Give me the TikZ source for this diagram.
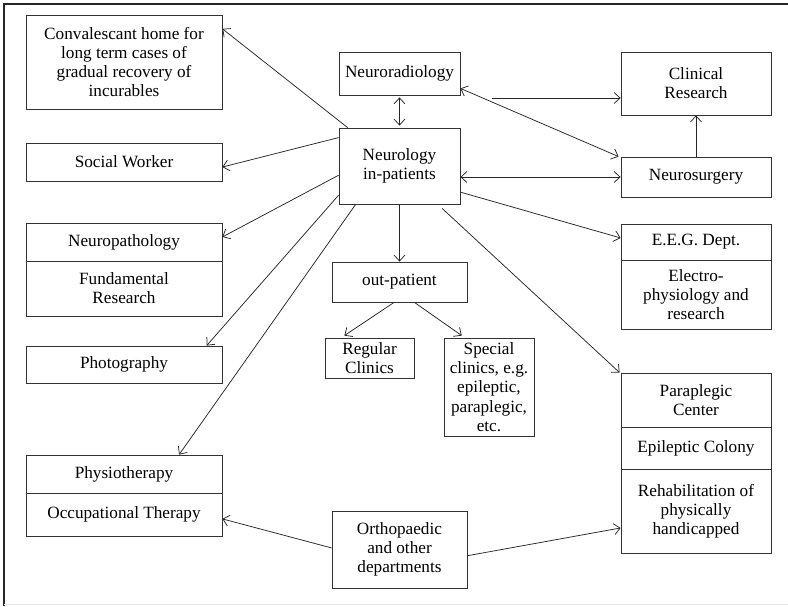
\documentclass[tikz,border=0pt]{standalone}
\usepackage{fontspec}
\setmainfont{Liberation Serif}
\usetikzlibrary{arrows.meta,calc}
\tikzset{
  box/.style={draw=black!80, line width=0.8pt, inner sep=0pt, align=center,
    font=\fontsize{17.2}{19.2}\selectfont},
  conn/.style={draw=black!85, line width=0.75pt, -{Straight Barb[length=6pt,width=11pt]}},
  dconn/.style={draw=black!85, line width=0.75pt, {Straight Barb[length=6pt,width=11pt]}-{Straight Barb[length=6pt,width=11pt]}},
}
\begin{document}
\begin{tikzpicture}[x=1pt,y=-1pt]
\useasboundingbox (0,0) rectangle (788,606);
\draw[black!85, line width=1.2pt] (4,606) -- (4,4) -- (788,4);
\draw[black!10, line width=0.8pt] (4,604.5) -- (788,604.5);
% left column
\node[box, minimum width=196pt, minimum height=94pt] (conv) at (124,62) {Convalescant home for\\long term cases of\\gradual recovery of\\incurables};
\node[box, minimum width=196pt, minimum height=38pt] (social) at (124,162) {Social Worker};
\node[box, minimum width=196pt, minimum height=38pt] (npath) at (124,242) {Neuropathology};
\node[box, minimum width=196pt, minimum height=55pt] (fund) at (124,288.5) {Fundamental\\Research};
\node[box, minimum width=196pt, minimum height=37pt] (photo) at (124,364.5) {Photography};
\node[box, minimum width=196pt, minimum height=38pt] (physio) at (124,474) {Physiotherapy};
\node[box, minimum width=196pt, minimum height=43pt] (occ) at (124,514.5) {Occupational Therapy};
% middle column
\node[box, minimum width=121pt, minimum height=43pt] (nrad) at (399.5,73.5) {Neuroradiology};
\node[box, minimum width=121pt, minimum height=76pt] (neuro) at (399.5,166) {Neurology\\in-patients};
\node[box, minimum width=135pt, minimum height=40pt] (outp) at (399.5,282) {out-patient};
\node[box, minimum width=89pt, minimum height=40pt] (reg) at (369.5,358) {Regular\\Clinics};
\node[box, minimum width=90pt, minimum height=98pt] (spec) at (489,387) {Special\\clinics, e.g.\\epileptic,\\paraplegic,\\etc.};
\node[box, minimum width=135pt, minimum height=77pt] (ortho) at (399.5,549.5) {Orthopaedic\\and other\\departments};
% right column
\node[box, minimum width=150pt, minimum height=63pt] (clin) at (696,83.5) {Clinical\\Research};
\node[box, minimum width=150pt, minimum height=40pt] (nsurg) at (696,177) {Neurosurgery};
\node[box, minimum width=150pt, minimum height=36pt] (eeg) at (696,242) {E.E.G. Dept.};
\node[box, minimum width=150pt, minimum height=69pt] (ephys) at (696,294.5) {Electro-\\physiology and\\research};
\node[box, minimum width=150pt, minimum height=54pt] (para) at (696,400) {Paraplegic\\Center};
\node[box, minimum width=150pt, minimum height=42pt] (epil) at (696,448) {Epileptic Colony};
\node[box, minimum width=150pt, minimum height=84pt] (rehab) at (696,511) {Rehabilitation of\\physically\\handicapped};
\coordinate (free) at (492,98);
% connectors
\draw[conn] ($(neuro.north west)!0.074!(neuro.north east)$) -- ($(conv.north east)!0.15!(conv.south east)$);
\draw[conn] ($(neuro.north west)!0.13!(neuro.south west)$) -- ($(social.north east)!0.63!(social.south east)$);
\draw[conn] ($(neuro.north west)!0.62!(neuro.south west)$) -- ($(npath.north east)!0.37!(npath.south east)$);
\draw[conn] ($(neuro.north west)!0.88!(neuro.south west)$) -- ($(photo.north west)!0.92!(photo.north east)$);
\draw[conn] ($(neuro.south west)!0.14!(neuro.south east)$) -- ($(physio.north west)!0.78!(physio.north east)$);
\draw[dconn, shorten <=2pt, shorten >=2pt] (nrad.south) -- (neuro.north);
\draw[conn] (neuro.south) -- (outp.north);
\draw[dconn] (neuro.east |- nsurg.west) -- (nsurg.west);
\draw[dconn] ($(nrad.north east)!0.84!(nrad.south east)$) -- ($(nsurg.north west)+(-2,0)$);
\draw[conn] (free) -- (free -| clin.west);
\draw[conn] (nsurg.north) -- (clin.south);
\draw[conn] ($(neuro.north east)!0.84!(neuro.south east)$) -- ($(eeg.north west)!0.39!(eeg.south west)$);
\draw[conn] ($(neuro.south west)!0.85!(neuro.south east)+(0,4)$) -- ($(para.north west)+(-1,0)$);
\draw[conn] ($(outp.south west)!0.46!(outp.south east)$) -- ($(reg.north west)!0.22!(reg.north east)+(0,-2)$);
\draw[conn] ($(outp.south west)!0.61!(outp.south east)$) -- ($(spec.north west)!0.2!(spec.north east)+(0,-2)$);
\draw[conn] ($(ortho.north west)!0.48!(ortho.south west)$) -- ($(occ.north east)!0.6!(occ.south east)$);
\draw[conn] ($(ortho.north east)!0.58!(ortho.south east)$) -- ($(rehab.north west)!0.7!(rehab.south west)$);
\end{tikzpicture}
\end{document}
